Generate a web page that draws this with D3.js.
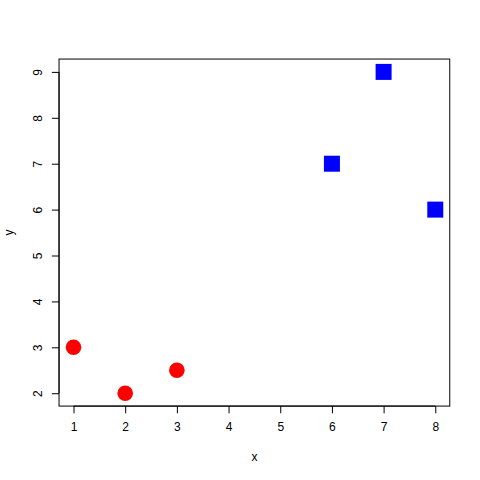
<!DOCTYPE html>
<html>
<head>
<meta charset="utf-8">
<script src="https://cdn.jsdelivr.net/npm/d3@7"></script>
<style>
  body { margin: 0; background: #fff; }
  text { font-family: "Liberation Sans", Arial, sans-serif; font-size: 12px; fill: #000; }
</style>
</head>
<body>
<div id="chart"></div>
<script>
// data
const redX = [1, 2, 3];
const redY = [3, 2, 2.5];
const blueX = [6, 7, 8];
const blueY = [7, 9, 6];
const xTicks = [1, 2, 3, 4, 5, 6, 7, 8];
const yTicks = [2, 3, 4, 5, 6, 7, 8, 9];

const width = 480, height = 480;
const margin = {top: 59.04, right: 30.24, bottom: 73.92, left: 59.04};
const plotW = width - margin.left - margin.right;
const plotH = height - margin.top - margin.bottom;

const svg = d3.select('#chart').append('svg')
    .attr('width', width)
    .attr('height', height);

// R style 4% padding
const pad = (lo, hi) => [lo - (hi - lo) * 0.04, hi + (hi - lo) * 0.04];

const x = d3.scaleLinear().domain(pad(1, 8)).range([margin.left, margin.left + plotW]);
const y = d3.scaleLinear().domain(pad(2, 9)).range([margin.top + plotH, margin.top]);

// box
svg.append('rect')
    .attr('x', margin.left)
    .attr('y', margin.top)
    .attr('width', plotW)
    .attr('height', plotH)
    .attr('fill', 'none')
    .attr('stroke', '#000')
    .attr('stroke-width', 1);

const tick = 7.2;

const xAxis = svg.append('g')
    .attr('transform', `translate(0,${margin.top + plotH})`)
    .call(d3.axisBottom(x).tickValues(xTicks).tickFormat(d3.format('d')).tickSize(tick).tickPadding(9.5));
xAxis.select('.domain').remove();
xAxis.append('line')
    .attr('x1', x(1)).attr('x2', x(8))
    .attr('stroke', '#000');
xAxis.selectAll('text').style('font-size', '12px').style('font-family', '"Liberation Sans", Arial, sans-serif');

const yAxis = svg.append('g')
    .attr('transform', `translate(${margin.left},0)`)
    .call(d3.axisLeft(y).tickValues(yTicks).tickFormat(d3.format('d')).tickSize(tick));
yAxis.select('.domain').remove();
yAxis.append('line')
    .attr('y1', y(2)).attr('y2', y(9))
    .attr('stroke', '#000');
yAxis.selectAll('.tick text')
    .attr('x', null).attr('dy', null)
    .attr('transform', 'translate(-21,0) rotate(-90)')
    .attr('text-anchor', 'middle')
    .attr('dy', '0.35em')
    .style('font-size', '12px').style('font-family', '"Liberation Sans", Arial, sans-serif');

// axis titles
svg.append('text')
    .attr('x', margin.left + plotW / 2)
    .attr('y', 461)
    .attr('text-anchor', 'middle')
    .text('x');
svg.append('text')
    .attr('transform', `translate(13,${margin.top + plotH / 2}) rotate(-90)`)
    .attr('text-anchor', 'middle')
    .text('y');

// points
svg.append('g').selectAll('circle')
    .data(redX.map((d, i) => [d, redY[i]]))
  .enter().append('circle')
    .attr('cx', d => x(d[0]))
    .attr('cy', d => y(d[1]))
    .attr('r', 7.8)
    .attr('fill', '#ff0000');

const side = 16;
svg.append('g').selectAll('rect')
    .data(blueX.map((d, i) => [d, blueY[i]]))
  .enter().append('rect')
    .attr('x', d => x(d[0]) - side / 2)
    .attr('y', d => y(d[1]) - side / 2)
    .attr('width', side)
    .attr('height', side)
    .attr('fill', '#0000ff');
</script>
</body>
</html>
